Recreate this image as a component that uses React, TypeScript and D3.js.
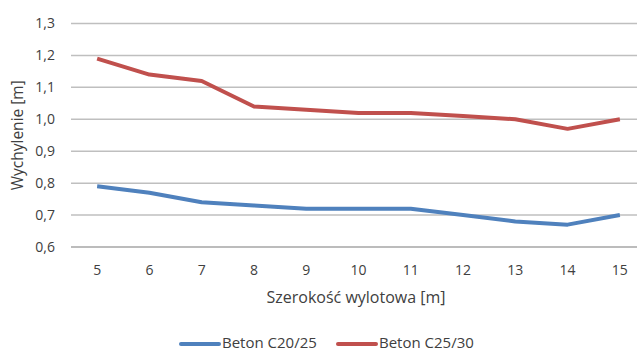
import React from "react";
import * as d3 from "d3";

const categories = ["5", "6", "7", "8", "9", "10", "11", "12", "13", "14", "15"];
const seriesC20 = [0.79, 0.77, 0.74, 0.73, 0.72, 0.72, 0.72, 0.70, 0.68, 0.67, 0.70];
const seriesC25 = [1.19, 1.14, 1.12, 1.04, 1.03, 1.02, 1.02, 1.01, 1.00, 0.97, 1.00];
const yTicks = [0.6, 0.7, 0.8, 0.9, 1.0, 1.1, 1.2, 1.3];
const seriesNames = ["Beton C20/25", "Beton C25/30"];
const colors = ["#4F81BD", "#C0504D"];

export default function App() {
  const W = 637, H = 351;
  const left = 71, right = 646, top = 23.5, bottom = 247;
  const x = d3.scaleBand().domain(categories).range([left, right]);
  const y = d3.scaleLinear().domain([0.6, 1.3]).range([bottom, top]);
  const line = d3.line<number>().x((_, i) => x(categories[i])! + x.bandwidth() / 2).y(d => y(d));
  const font = "'Open Sans', sans-serif";
  const fmt = (v: number) => v.toFixed(1).replace(".", ",");
  return (
    <svg width={W} height={H} style={{ position: "absolute", left: 0, top: 0, fontFamily: font }}>
      <rect width={W} height={H} fill="#fff" />
      {yTicks.map(t => (
        <line key={t} x1={left} x2={right} y1={y(t)} y2={y(t)} stroke={t === 0.6 ? "#A6A6A6" : "#BFBFBF"} strokeWidth={1.5} />
      ))}
      {yTicks.map(t => (
        <text key={t} x={55} y={y(t)} dy="0.35em" textAnchor="end" fontSize={14} fill="#404040">{fmt(t)}</text>
      ))}
      {categories.map(c => (
        <text key={c} x={x(c)! + x.bandwidth() / 2} y={270} dy="0.35em" textAnchor="middle" fontSize={14} fill="#404040">{c}</text>
      ))}
      {[seriesC20, seriesC25].map((s, i) => (
        <path key={i} d={line(s)!} fill="none" stroke={colors[i]} strokeWidth={4} strokeLinejoin="round" />
      ))}
      <text x={356} y={297} dy="0.35em" textAnchor="middle" fontSize={16} fill="#404040">Szerokość wylotowa [m]</text>
      <text transform={`translate(18,${(top + bottom) / 2}) rotate(-90)`} textAnchor="middle" dy="0.35em" fontSize={15.5} fill="#404040">Wychylenie [m]</text>
      {seriesNames.map((n, i) => {
        const lx = i === 0 ? 181 : 338;
        return (
          <g key={n}>
            <line x1={lx} x2={lx + 38} y1={344} y2={344} stroke={colors[i]} strokeWidth={4} strokeLinecap="round" />
            <text x={lx + 41} y={343} dy="0.35em" fontSize={15} fill="#404040">{n}</text>
          </g>
        );
      })}
    </svg>
  );
}
